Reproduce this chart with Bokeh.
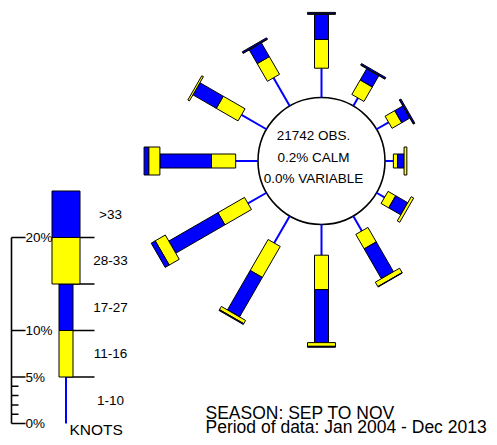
import numpy as np
from bokeh.plotting import figure
from bokeh.models import Range1d
from bokeh.core.properties import value
from bokeh.embed import file_html
from bokeh.resources import INLINE

# ---------------- data (percent of observations) ----------------
directions = [0, 30, 60, 90, 120, 150, 180, 210, 240, 270, 300, 330]
kt_1_10  = [3.15, 1.0, 1.5, 0.9, 1.0, 1.85, 3.3, 3.35, 2.3, 2.4, 3.1, 3.5]
kt_11_16 = [3.1, 1.8, 1.2, 0.45, 0.95, 1.8, 3.7, 3.85, 3.3, 2.6, 2.7, 2.2]
kt_17_27 = [2.7, 1.4, 1.0, 0.7, 1.5, 3.7, 5.7, 4.9, 6.1, 5.55, 2.9, 1.7]
kt_28_33 = [0.05, 0.05, 0.05, 0.3, 0.3, 0.55, 0.4, 0.4, 1.25, 1.2, 0.2, 0.05]
kt_gt33  = [0.15, 0.15, 0.15, 0.0, 0.0, 0.05, 0.1, 0.1, 0.5, 0.5, 0.0, 0.15]

legend_labels = ["1-10", "11-16", "17-27", "28-33", ">33"]
legend_pct = [5, 5, 5, 5, 5]
scale_major = [0, 5, 10, 20]
scale_major_labels = ["0%", "5%", "10%", "20%"]
scale_minor = [1, 2, 3, 4]

info_lines = ["21742 OBS.", "0.2% CALM", "0.0% VARIABLE"]
footer_text = "SEASON: SEP TO NOV\nPeriod of data: Jan 2004 - Dec 2013"

# ---------------- layout ----------------
PX = 9.3                 # pixels per percent
CX, CY = 321.0, 160.5    # page position of rose centre
W, H = 497, 445
R0 = 63.5 / PX           # calm circle radius (in percent units)
NARROW, WIDE = 14, 28    # bar widths in px
BLUE, YELLOW = "#0000FF", "#FFFF00"
FONT = value("Liberation Sans")


def dx(sx):
    return (sx - CX) / PX


def dy(sy):
    return (CY - sy) / PX


p = figure(width=W, height=H, x_range=Range1d(dx(0), dx(W)),
           y_range=Range1d(dy(H), dy(0)), output_backend="svg",
           toolbar_location=None, min_border=0)
p.axis.visible = False
p.grid.visible = False
p.outline_line_color = None
p.background_fill_color = "white"

# ---------------- rose ----------------
theta = np.radians(directions)
segs = [np.array(kt_1_10), np.array(kt_11_16), np.array(kt_17_27),
        np.array(kt_28_33), np.array(kt_gt33)]
starts = [R0 + sum(segs[:k]) for k in range(5)]
s, c = np.sin(theta), np.cos(theta)

p.circle(x=0, y=0, radius=R0, fill_color="white", line_color="black",
         line_width=1.6)

r1 = starts[0] + segs[0]
p.segment(x0=R0 * s, y0=R0 * c, x1=r1 * s, y1=r1 * c, line_color=BLUE,
          line_width=2)

styles = [(YELLOW, NARROW), (BLUE, NARROW), (YELLOW, WIDE), (BLUE, WIDE)]
for k, (col, bw) in zip(range(1, 5), styles):
    L = segs[k]
    m = L > 0
    rc = starts[k] + L / 2
    p.rect(x=(rc * s)[m], y=(rc * c)[m], width=L[m], height=bw,
           height_units="screen", angle=(np.pi / 2 - theta)[m],
           fill_color=col, line_color="black", line_width=1)

p.text(x=[dx(313)] * 3, y=[dy(134.5), dy(157), dy(177.5)], text=info_lines,
       text_font=FONT, text_font_size="13.5px", text_align="center",
       text_baseline="middle", text_color="black")

# ---------------- legend / scale ----------------
LX = dx(65.5)
LY0 = dy(423)
AX = dx(11)
bounds = np.concatenate([[0], np.cumsum(legend_pct)]) + LY0

# horizontal separators to the right
sep = bounds[1:-1]
p.segment(x0=[LX] * len(sep), y0=sep, x1=[dx(94)] * len(sep), y1=sep,
          line_color="black", line_width=1.5)

# 1-10 line
p.segment(x0=[LX], y0=[bounds[0]], x1=[LX], y1=[bounds[1]], line_color=BLUE,
          line_width=2)
for k, (col, bw) in zip(range(1, 5), styles):
    p.rect(x=[LX], y=[(bounds[k] + bounds[k + 1]) / 2], width=bw,
           width_units="screen", height=[legend_pct[k]], fill_color=col,
           line_color="black", line_width=1)

# scale axis
p.segment(x0=[AX], y0=[LY0], x1=[AX], y1=[LY0 + max(scale_major)],
          line_color="black", line_width=1.6)
maj = np.array(scale_major) + LY0
p.segment(x0=[AX] * len(maj), y0=maj, x1=[dx(25)] * len(maj), y1=maj,
          line_color="black", line_width=1.5)
mnr = np.array(scale_minor) + LY0
p.segment(x0=[AX] * len(mnr), y0=mnr, x1=[dx(18)] * len(mnr), y1=mnr,
          line_color="black", line_width=1.5)
p.text(x=[dx(25)] * len(maj), y=maj, text=scale_major_labels, text_font=FONT,
       text_font_size="13.5px", text_align="left", text_baseline="middle",
       text_color="black")

mids = (bounds[:-1] + bounds[1:]) / 2
p.text(x=[dx(110)] * len(mids), y=mids, text=legend_labels, text_font=FONT,
       text_font_size="13.5px", text_align="center", text_baseline="middle",
       text_color="black")
p.text(x=[dx(69)], y=[dy(429)], text=["KNOTS"], text_font=FONT,
       text_font_size="15.5px", text_align="left", text_baseline="middle",
       text_color="black")

# ---------------- footer ----------------
p.text(x=[dx(205)], y=[dy(419.5)], text=[footer_text], text_font=FONT,
       text_font_size="17.5px", text_align="left", text_baseline="middle",
       text_line_height=0.66, text_color="black")

open("out.html", "w").write(file_html(p, INLINE))
